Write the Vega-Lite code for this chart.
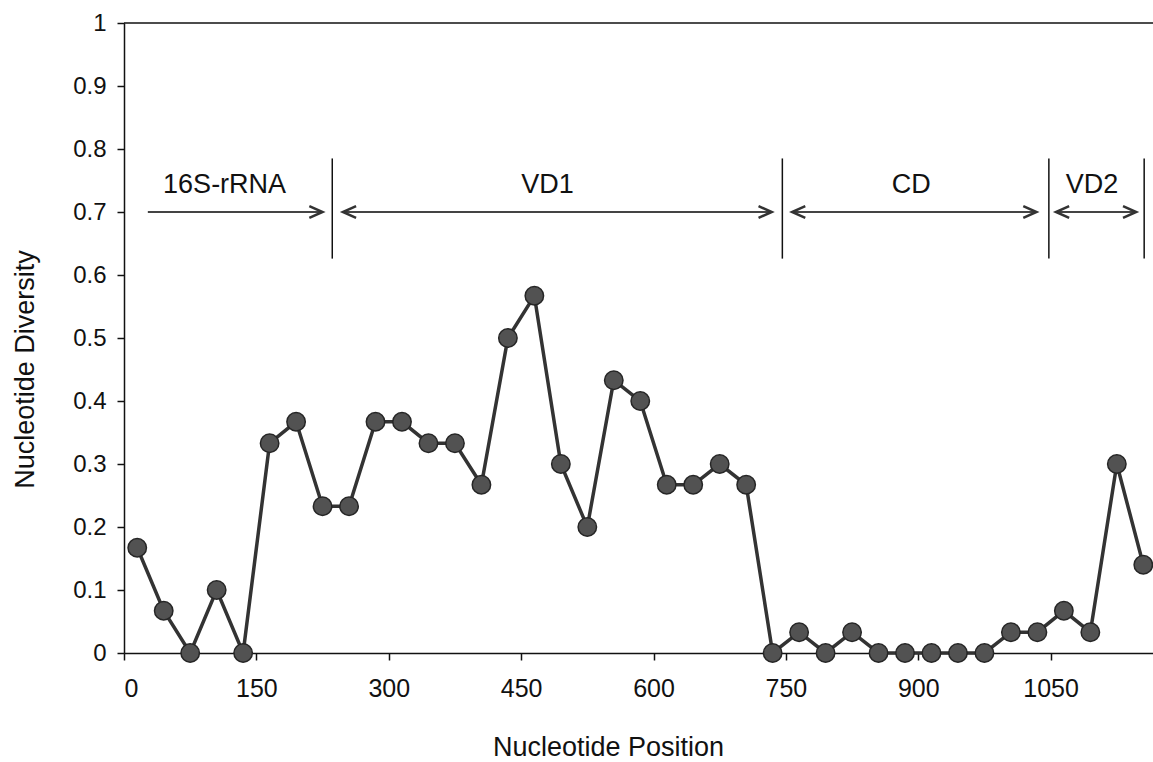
{
  "$schema": "https://vega.github.io/schema/vega-lite/v6.json",
  "width": 1029,
  "height": 630,
  "autosize": {"type": "none"},
  "padding": {"left": 124, "top": 23, "right": 0, "bottom": 109},
  "background": "white",
  "config": {
    "view": {"stroke": null},
    "font": "Liberation Sans",
    "axis": {
      "grid": false,
      "labelFont": "Liberation Sans",
      "titleFont": "Liberation Sans",
      "titleFontWeight": "normal",
      "domainColor": "#111",
      "domainWidth": 1.5,
      "tickColor": "#111",
      "tickWidth": 1.5,
      "labelColor": "#111",
      "titleColor": "#111"
    }
  },
  "datasets": {
    "diversity": [
      {"position": 15, "diversity": 0.167},
      {"position": 45, "diversity": 0.067},
      {"position": 75, "diversity": 0},
      {"position": 105, "diversity": 0.1},
      {"position": 135, "diversity": 0},
      {"position": 165, "diversity": 0.333},
      {"position": 195, "diversity": 0.367},
      {"position": 225, "diversity": 0.233},
      {"position": 255, "diversity": 0.233},
      {"position": 285, "diversity": 0.367},
      {"position": 315, "diversity": 0.367},
      {"position": 345, "diversity": 0.333},
      {"position": 375, "diversity": 0.333},
      {"position": 405, "diversity": 0.267},
      {"position": 435, "diversity": 0.5},
      {"position": 465, "diversity": 0.567},
      {"position": 495, "diversity": 0.3},
      {"position": 525, "diversity": 0.2},
      {"position": 555, "diversity": 0.433},
      {"position": 585, "diversity": 0.4},
      {"position": 615, "diversity": 0.267},
      {"position": 645, "diversity": 0.267},
      {"position": 675, "diversity": 0.3},
      {"position": 705, "diversity": 0.267},
      {"position": 735, "diversity": 0},
      {"position": 765, "diversity": 0.033},
      {"position": 795, "diversity": 0},
      {"position": 825, "diversity": 0.033},
      {"position": 855, "diversity": 0},
      {"position": 885, "diversity": 0},
      {"position": 915, "diversity": 0},
      {"position": 945, "diversity": 0},
      {"position": 975, "diversity": 0},
      {"position": 1005, "diversity": 0.033},
      {"position": 1035, "diversity": 0.033},
      {"position": 1065, "diversity": 0.067},
      {"position": 1095, "diversity": 0.033},
      {"position": 1125, "diversity": 0.3},
      {"position": 1155, "diversity": 0.14}
    ],
    "boundaries": [
      {"boundary": 236},
      {"boundary": 746},
      {"boundary": 1048},
      {"boundary": 1156}
    ],
    "spans": [
      {"region": "16S-rRNA", "start": 27, "end": 225},
      {"region": "VD1", "start": 248, "end": 734},
      {"region": "CD", "start": 757, "end": 1034},
      {"region": "VD2", "start": 1056, "end": 1147}
    ],
    "heads": [
      {"at": 225, "dir": "right"},
      {"at": 248, "dir": "left"},
      {"at": 734, "dir": "right"},
      {"at": 757, "dir": "left"},
      {"at": 1034, "dir": "right"},
      {"at": 1056, "dir": "left"},
      {"at": 1147, "dir": "right"}
    ],
    "labels": [
      {"region": "16S-rRNA", "center": 114},
      {"region": "VD1", "center": 480},
      {"region": "CD", "center": 892},
      {"region": "VD2", "center": 1097}
    ]
  },
  "layer": [
    {
      "data": {"name": "diversity"},
      "mark": {"type": "line", "color": "#333", "strokeWidth": 3.5},
      "encoding": {
        "x": {
          "field": "position",
          "type": "quantitative",
          "scale": {"domain": [0, 1166], "nice": false, "zero": false},
          "axis": {
            "title": "Nucleotide Position",
            "values": [0, 150, 300, 450, 600, 750, 900, 1050],
            "format": "d",
            "labelFontSize": 25,
            "tickSize": 7,
            "labelPadding": 16,
            "titleFontSize": 27,
            "titleX": 484,
            "titleY": 102,
            "titleAlign": "center",
            "titleBaseline": "alphabetic"
          }
        },
        "y": {
          "field": "diversity",
          "type": "quantitative",
          "scale": {"domain": [0, 1], "nice": false},
          "axis": {
            "title": "Nucleotide Diversity",
            "values": [0, 0.1, 0.2, 0.3, 0.4, 0.5, 0.6, 0.7, 0.8, 0.9, 1],
            "format": "~g",
            "labelFontSize": 24,
            "tickSize": 7,
            "labelPadding": 11,
            "titleFontSize": 27,
            "titleAngle": 270,
            "titleX": -91,
            "titleY": 346,
            "titleAlign": "center",
            "titleBaseline": "alphabetic"
          }
        }
      }
    },
    {
      "data": {"values": [{}]},
      "mark": {"type": "rule", "color": "#111", "strokeWidth": 1.5},
      "encoding": {
        "y": {"datum": 1, "type": "quantitative"}
      }
    },
    {
      "data": {"name": "boundaries"},
      "mark": {"type": "rule", "color": "#111", "strokeWidth": 1.5},
      "encoding": {
        "x": {"field": "boundary", "type": "quantitative"},
        "y": {"datum": 0.626, "type": "quantitative"},
        "y2": {"datum": 0.785}
      }
    },
    {
      "data": {"name": "spans"},
      "mark": {"type": "rule", "color": "#444", "strokeWidth": 2},
      "encoding": {
        "x": {"field": "start", "type": "quantitative"},
        "x2": {"field": "end"},
        "y": {"datum": 0.7, "type": "quantitative"}
      }
    },
    {
      "data": {"name": "heads"},
      "mark": {"type": "point", "filled": false, "color": "#333", "strokeWidth": 2.5, "opacity": 1, "size": 700},
      "encoding": {
        "x": {"field": "at", "type": "quantitative"},
        "y": {"datum": 0.7, "type": "quantitative"},
        "shape": {
          "field": "dir",
          "type": "nominal",
          "scale": {"domain": ["left", "right"], "range": ["M1,-0.45L0,0L1,0.45", "M-1,-0.45L0,0L-1,0.45"]},
          "legend": null
        }
      }
    },
    {
      "data": {"name": "labels"},
      "mark": {"type": "text", "font": "Liberation Sans", "fontSize": 27, "color": "#111", "align": "center", "baseline": "alphabetic"},
      "encoding": {
        "x": {"field": "center", "type": "quantitative"},
        "y": {"datum": 0.73, "type": "quantitative"},
        "text": {"field": "region"}
      }
    },
    {
      "data": {"name": "diversity"},
      "mark": {"type": "point", "filled": true, "fill": "#525252", "stroke": "#262626", "strokeWidth": 1.5, "opacity": 1, "size": 340},
      "encoding": {
        "x": {"field": "position", "type": "quantitative"},
        "y": {"field": "diversity", "type": "quantitative"}
      }
    }
  ]
}
